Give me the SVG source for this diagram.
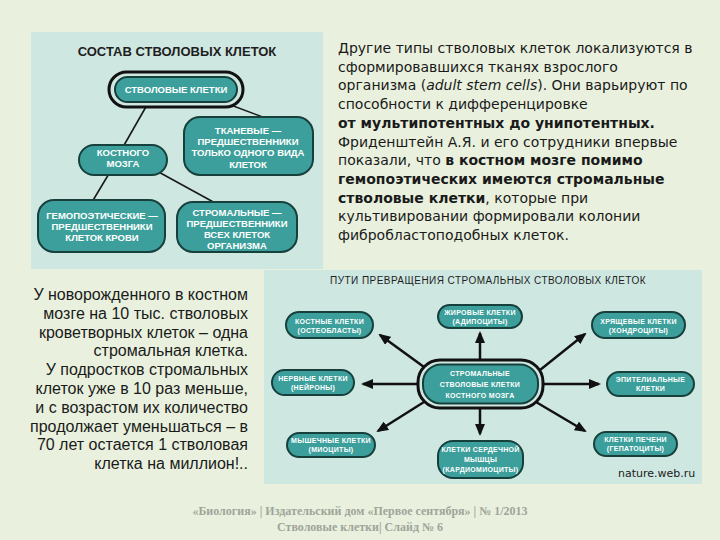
<svg xmlns="http://www.w3.org/2000/svg" width="720" height="540" viewBox="0 0 720 540">
  <style>
    .panel { fill: #cfe7e1; }
    .node { fill: #3d9f9b; stroke: #17403d; stroke-width: 2; }
    .ring { fill: #cfe7e1; stroke: #111; stroke-width: 3; }
    .lbl { font-family: "Liberation Sans", Arial, sans-serif; font-weight: bold; fill: #ffffff; text-anchor: middle; }
    .l1 { font-size: 9.5px; }
    .l2 { font-size: 7px; letter-spacing: 0.3px; }
    .ttl { font-family: "Liberation Sans", Arial, sans-serif; fill: #1e1e1e; text-anchor: middle; }
    .line { stroke: #1a1a1a; stroke-width: 1.6; fill: none; }
    .arr { stroke: #111; stroke-width: 2.5; fill: none; marker-end: url(#ah); }
    .body { font-family: "DejaVu Sans", Verdana, sans-serif; font-size: 14px; fill: #1a1a1a; }
    .left { font-family: "Liberation Sans", Arial, sans-serif; font-size: 16px; fill: #1a1a1a; text-anchor: end; }
    .foot { font-family: "Liberation Serif", "Times New Roman", serif; font-size: 12px; font-weight: bold; fill: #9fa59a; text-anchor: middle; }
  </style>
  <defs>
    <marker id="ah" viewBox="0 0 12 10" refX="10" refY="5" markerWidth="12" markerHeight="10" markerUnits="userSpaceOnUse" orient="auto">
      <path d="M0,0 L12,5 L0,10 z" fill="#111"/>
    </marker>
  </defs>

  <rect width="720" height="540" fill="#e9f1de"/>

  <!-- Top-left panel -->
  <rect class="panel" x="31" y="32" width="292" height="237"/>
  <text class="ttl" x="177" y="56" font-size="13" font-weight="bold">СОСТАВ СТВОЛОВЫХ КЛЕТОК</text>

  <g id="connectors-top">
    <line class="line" x1="147" y1="105" x2="123" y2="147"/>
    <line class="line" x1="228" y1="104" x2="268" y2="119"/>
    <line class="line" x1="110" y1="172" x2="92" y2="202"/>
    <line class="line" x1="155" y1="170" x2="217" y2="204"/>
  </g>

  <g id="stem-cells">
    <rect class="ring" x="109" y="72" width="134" height="35" rx="17.5"/>
    <rect class="node" x="115" y="77" width="122" height="25" rx="12.5" stroke-width="1.5"/>
    <text class="lbl l1" x="176" y="93">СТВОЛОВЫЕ КЛЕТКИ</text>
  </g>
  <g id="bone-marrow">
    <rect class="node" x="79" y="145" width="88" height="30" rx="15"/>
    <text class="lbl l1" x="123" y="156">КОСТНОГО</text>
    <text class="lbl l1" x="123" y="167">МОЗГА</text>
  </g>
  <g id="tissue">
    <rect class="node" x="184" y="117" width="129" height="58" rx="16"/>
    <text class="lbl l1" x="248" y="134">ТКАНЕВЫЕ —</text>
    <text class="lbl l1" x="248" y="145">ПРЕДШЕСТВЕННИКИ</text>
    <text class="lbl l1" x="248" y="156">ТОЛЬКО ОДНОГО ВИДА</text>
    <text class="lbl l1" x="248" y="168">КЛЕТОК</text>
  </g>
  <g id="hemo">
    <rect class="node" x="38" y="200" width="127" height="52" rx="16"/>
    <text class="lbl l1" x="102" y="219">ГЕМОПОЭТИЧЕСКИЕ —</text>
    <text class="lbl l1" x="102" y="230">ПРЕДШЕСТВЕННИКИ</text>
    <text class="lbl l1" x="102" y="241">КЛЕТОК КРОВИ</text>
  </g>
  <g id="stromal">
    <rect class="node" x="177" y="202" width="120" height="50" rx="16"/>
    <text class="lbl l1" x="237" y="216">СТРОМАЛЬНЫЕ —</text>
    <text class="lbl l1" x="237" y="227">ПРЕДШЕСТВЕННИКИ</text>
    <text class="lbl l1" x="237" y="238">ВСЕХ КЛЕТОК</text>
    <text class="lbl l1" x="237" y="249">ОРГАНИЗМА</text>
  </g>

  <!-- Right text -->
  <g id="right-text" class="body">
    <text x="338" y="53">Другие типы стволовых клеток локализуются в</text>
    <text x="338" y="71.7">сформировавшихся тканях взрослого</text>
    <text x="338" y="90.4">организма (<tspan font-style="italic">adult stem cells</tspan>). Они варьируют по</text>
    <text x="338" y="109.1">способности к дифференцировке</text>
    <text x="338" y="127.8" font-weight="bold">от мультипотентных до унипотентных.</text>
    <text x="338" y="146.5">Фриденштейн А.Я. и его сотрудники впервые</text>
    <text x="338" y="165.2">показали, что <tspan font-weight="bold">в костном мозге помимо</tspan></text>
    <text x="338" y="183.9" font-weight="bold">гемопоэтических имеются стромальные</text>
    <text x="338" y="202.6"><tspan font-weight="bold">стволовые клетки</tspan>, которые при</text>
    <text x="338" y="221.3">культивировании формировали колонии</text>
    <text x="338" y="240">фибробластоподобных клеток.</text>
  </g>

  <!-- Left text -->
  <g id="left-text" class="left">
    <text x="248" y="300">У новорожденного в костном</text>
    <text x="248" y="318.8">мозге на 10 тыс. стволовых</text>
    <text x="248" y="337.6">кроветворных клеток – одна</text>
    <text x="248" y="356.4">стромальная клетка.</text>
    <text x="248" y="375.2">У подростков стромальных</text>
    <text x="248" y="394">клеток уже в 10 раз меньше,</text>
    <text x="248" y="412.8">и с возрастом их количество</text>
    <text x="248" y="431.6">продолжает уменьшаться – в</text>
    <text x="248" y="450.4">70 лет остается 1 стволовая</text>
    <text x="248" y="469.2">клетка на миллион!..</text>
  </g>

  <!-- Bottom-right panel -->
  <rect class="panel" x="264" y="270" width="438" height="214"/>
  <text class="ttl" x="488" y="284" font-size="10" letter-spacing="0.45">ПУТИ ПРЕВРАЩЕНИЯ СТРОМАЛЬНЫХ СТВОЛОВЫХ КЛЕТОК</text>

  <g id="connectors-bottom">
    <line class="arr" x1="424" y1="367" x2="380" y2="335"/>
    <line class="arr" x1="480" y1="361" x2="480" y2="333"/>
    <line class="arr" x1="540" y1="370" x2="585" y2="334"/>
    <line class="arr" x1="419" y1="384" x2="363" y2="384"/>
    <line class="arr" x1="542" y1="384" x2="599" y2="384"/>
    <line class="arr" x1="424" y1="402" x2="378" y2="431"/>
    <line class="arr" x1="480" y1="407" x2="480" y2="434"/>
    <line class="arr" x1="536" y1="402" x2="585" y2="431"/>
  </g>

  <g id="center">
    <rect class="ring" x="418" y="360" width="125" height="48" rx="22"/>
    <rect class="node" x="423" y="364.5" width="115" height="39" rx="18" stroke-width="1.5"/>
    <text class="lbl l2" x="480" y="376">СТРОМАЛЬНЫЕ</text>
    <text class="lbl l2" x="480" y="387">СТВОЛОВЫЕ КЛЕТКИ</text>
    <text class="lbl l2" x="480" y="398">КОСТНОГО МОЗГА</text>
  </g>
  <g id="bone">
    <rect class="node" x="286" y="312" width="87" height="26" rx="13"/>
    <text class="lbl l2" x="329.5" y="323.5">КОСТНЫЕ КЛЕТКИ</text>
    <text class="lbl l2" x="329.5" y="332.5">(ОСТЕОБЛАСТЫ)</text>
  </g>
  <g id="fat">
    <rect class="node" x="438" y="305" width="84" height="23" rx="11.5"/>
    <text class="lbl l2" x="480" y="315">ЖИРОВЫЕ КЛЕТКИ</text>
    <text class="lbl l2" x="480" y="324">(АДИПОЦИТЫ)</text>
  </g>
  <g id="cartilage">
    <rect class="node" x="592" y="312" width="93" height="26" rx="13"/>
    <text class="lbl l2" x="638.5" y="323.5">ХРЯЩЕВЫЕ КЛЕТКИ</text>
    <text class="lbl l2" x="638.5" y="332.5">(ХОНДРОЦИТЫ)</text>
  </g>
  <g id="nerve">
    <rect class="node" x="272" y="370" width="82" height="25" rx="12.5"/>
    <text class="lbl l2" x="313" y="380.5">НЕРВНЫЕ КЛЕТКИ</text>
    <text class="lbl l2" x="313" y="389.5">(НЕЙРОНЫ)</text>
  </g>
  <g id="epithelial">
    <rect class="node" x="607" y="372" width="87" height="24" rx="12"/>
    <text class="lbl l2" x="650.5" y="382">ЭПИТЕЛИАЛЬНЫЕ</text>
    <text class="lbl l2" x="650.5" y="391">КЛЕТКИ</text>
  </g>
  <g id="muscle">
    <rect class="node" x="287" y="433" width="88" height="24" rx="12"/>
    <text class="lbl l2" x="331" y="443">МЫШЕЧНЫЕ КЛЕТКИ</text>
    <text class="lbl l2" x="331" y="452">(МИОЦИТЫ)</text>
  </g>
  <g id="cardio">
    <rect class="node" x="438" y="441" width="85" height="37" rx="15"/>
    <text class="lbl l2" x="480.5" y="452">КЛЕТКИ СЕРДЕЧНОЙ</text>
    <text class="lbl l2" x="480.5" y="462">МЫШЦЫ</text>
    <text class="lbl l2" x="480.5" y="472">(КАРДИОМИОЦИТЫ)</text>
  </g>
  <g id="liver">
    <rect class="node" x="594" y="432" width="83" height="24" rx="12"/>
    <text class="lbl l2" x="635.5" y="442">КЛЕТКИ ПЕЧЕНИ</text>
    <text class="lbl l2" x="635.5" y="451">(ГЕПАТОЦИТЫ)</text>
  </g>
  <text x="618" y="477" font-family="DejaVu Sans, Verdana, sans-serif" font-size="11" fill="#1a1a1a">nature.web.ru</text>

  <!-- Footer -->
  <text class="foot" x="360" y="515">«Биология»  |  Издательский дом «Первое сентября» | № 1/2013</text>
  <text class="foot" x="360" y="531">Стволовые клетки| Слайд № 6</text>
</svg>
